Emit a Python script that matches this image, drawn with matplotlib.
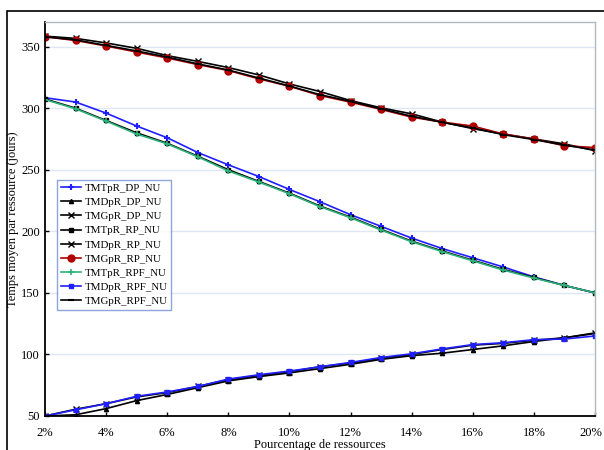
import matplotlib
matplotlib.use("Agg")
import matplotlib.pyplot as plt
import matplotlib.transforms as mtransforms
from matplotlib.patches import Rectangle

plt.rcParams['font.family'] = ['Liberation Serif', 'DejaVu Serif']

pct = [2, 3, 4, 5, 6, 7, 8, 9, 10, 11, 12, 13, 14, 15, 16, 17, 18, 19, 20]
xtick_vals = [2, 4, 6, 8, 10, 12, 14, 16, 18, 20]
xtick_labels = ['2%', '4%', '6%', '8%', '10%', '12%', '14%', '16%', '18%', '20%']
ytick_vals = [50, 100, 150, 200, 250, 300, 350]

TMTpR_DP_NU = [308.5, 305, 296, 285.5, 276, 264, 254, 244.5, 234, 224, 213.5, 204, 194.5, 186, 178.5, 171, 163, 156, 150]
TMDpR_DP_NU = [50, 51, 56, 62.5, 67.5, 73, 78.5, 82, 85, 88.5, 92, 96, 99, 101, 104, 107, 110.5, 113.5, 117]
TMGpR_DP_NU = [358.5, 356.7, 353, 348.6, 342.7, 338, 333, 327, 319.7, 313.5, 306.2, 300.3, 295.4, 288.7, 283.4, 279, 275, 271, 265.5]
TMTpR_RP_NU = [307.5, 300, 290, 280, 271.5, 261, 250, 240.5, 231, 220.5, 211.5, 201.5, 192, 184, 176.5, 169, 162.5, 156, 150]
TMDpR_RP_NU = [50, 55.5, 60, 65.5, 69, 74, 79.5, 83, 86, 90, 93, 97, 100, 104, 107.5, 109, 111.5, 113.5, 117.5]
TMGpR_RP_NU = [358, 355, 350.5, 345.6, 340.8, 335.4, 330.6, 323.8, 317.8, 310.3, 304.9, 299, 292.7, 288.7, 285.5, 279, 275, 269.5, 268]
TMTpR_RPF_NU = [307, 299.5, 289.5, 279, 271, 260.5, 249, 240, 230.5, 220, 211, 201, 191.5, 183.5, 176, 168.5, 162, 156, 150]
TMDpR_RPF_NU = [50, 55, 60, 66, 69.5, 74, 80, 83.5, 86.5, 90, 93.5, 97.5, 100.5, 104.5, 108, 109.5, 112, 112.5, 115]
TMGpR_RPF_NU = [358, 355.5, 351, 346.5, 341.5, 336, 331, 324.5, 318, 311, 305.5, 299.5, 293.5, 288.5, 284, 278.5, 274.5, 270, 266]

series = [
    ('TMTpR_DP_NU', TMTpR_DP_NU, '#1f1fff', '+', 5, 1.5),
    ('TMDpR_DP_NU', TMDpR_DP_NU, 'black', '^', 3, 1.0),
    ('TMGpR_DP_NU', TMGpR_DP_NU, 'black', 'x', 4, 1.0),
    ('TMTpR_RP_NU', TMTpR_RP_NU, 'black', 's', 3, 1.0),
    ('TMDpR_RP_NU', TMDpR_RP_NU, 'black', 'x', 4, 1.0),
    ('TMGpR_RP_NU', TMGpR_RP_NU, '#b00000', 'o', 5, 1.0),
    ('TMTpR_RPF_NU', TMTpR_RPF_NU, '#2db37a', '+', 5, 1.2),
    ('TMDpR_RPF_NU', TMDpR_RPF_NU, '#1f1fff', 's', 2.5, 1.0),
    ('TMGpR_RPF_NU', TMGpR_RPF_NU, 'black', '_', 5, 1.5),
]

fig = plt.figure(figsize=(6.04, 4.5), dpi=100)
ax = fig.add_axes([45/604, 34/450, 550/604, 394/450])

for name, vals, col, mk, ms, mew in series:
    ax.plot(pct, vals, color=col, marker=mk, markersize=ms, markeredgewidth=mew,
            linewidth=1.2, label=name)

ax.set_xlim(2, 20)
ax.set_ylim(50, 370)
ax.set_xticks(xtick_vals)
ax.set_xticklabels(xtick_labels)
ax.set_yticks(ytick_vals)
ax.tick_params(axis='both', direction='in', length=3, labelsize=9, width=1)
ax.tick_params(axis='x', pad=8)
ax.yaxis.grid(True, color='#dfe6f4', linewidth=1)
ax.set_axisbelow(True)
for s in ['top', 'right']:
    ax.spines[s].set_color('#b0b8c0')
    ax.spines[s].set_linewidth(1)
for s in ['left', 'bottom']:
    ax.spines[s].set_color('black')
    ax.spines[s].set_linewidth(1.3)

# nudge last x tick label slightly left so it stays inside the canvas
last = ax.get_xticklabels()[-1]
last.set_transform(last.get_transform() +
                   mtransforms.ScaledTranslation(-4/100, 0, fig.dpi_scale_trans))

ax.set_xlabel('Pourcentage de ressources', fontsize=9, labelpad=0)
ax.set_ylabel('Temps moyen par ressource (jours)', fontsize=9, labelpad=2)

leg = ax.legend(loc='upper left', bbox_to_anchor=(0.022, 0.60), fontsize=7.8,
                frameon=True, fancybox=False, borderpad=0.35, labelspacing=0.42,
                handlelength=1.9, handletextpad=0.3, borderaxespad=0)
leg.get_frame().set_edgecolor('#6f8fd8')
leg.get_frame().set_linewidth(1.0)

fig.patches.append(Rectangle((7/604, -0.1), 1.2, (450-11)/450 + 0.1,
                             transform=fig.transFigure, fill=False,
                             edgecolor='black', linewidth=1.2))

fig.savefig('out.png', dpi=100)
